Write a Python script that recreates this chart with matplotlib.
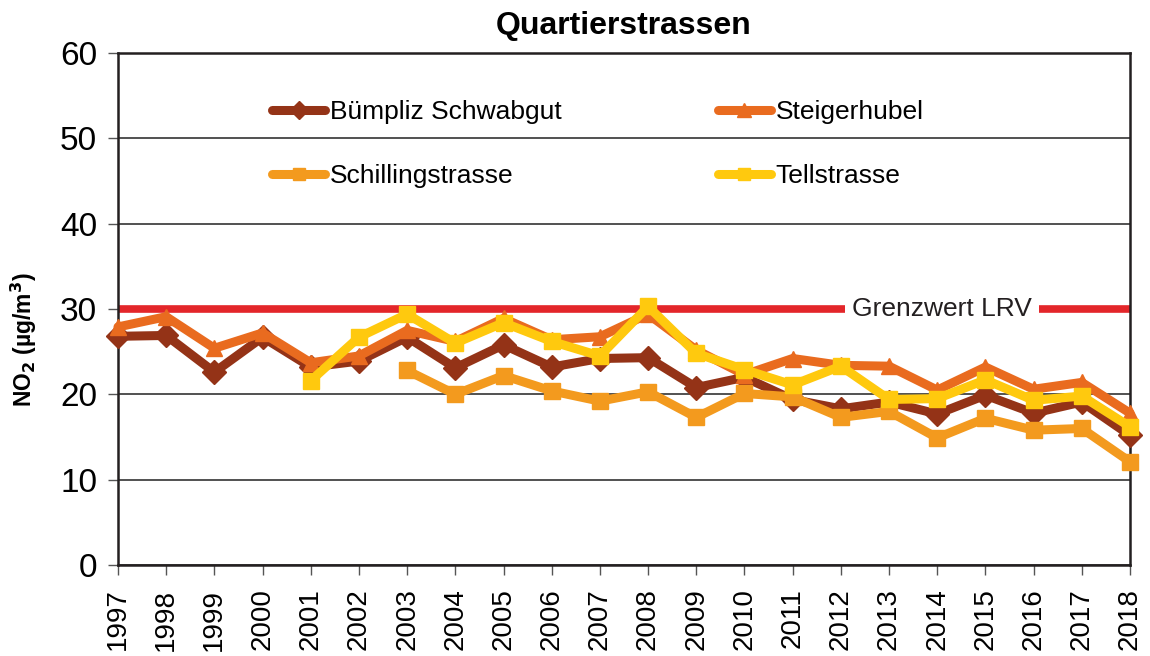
import matplotlib.pyplot as plt

years = list(range(1997, 2019))

# NO2 annual means (ug/m3)
buempliz = [26.8, 26.9, 22.6, 26.7, 23.2, 23.9, 26.7, 23.1, 25.8, 23.2, 24.2, 24.3,
            20.8, 22.0, 19.4, 18.3, 19.1, 17.7, 19.9, 17.8, 19.1, 15.2]
steigerhubel = [27.9, 29.1, 25.4, 27.2, 23.7, 24.5, 27.5, 26.2, 28.9, 26.4, 26.75, 29.4,
                25.2, 22.3, 24.2, 23.4, 23.3, 20.5, 23.2, 20.6, 21.4, 17.8]
schilling_years = list(range(2003, 2019))
schilling = [22.8, 20.0, 22.2, 20.4, 19.2, 20.3, 17.3, 20.1, 19.7, 17.3, 18.0, 14.9,
             17.2, 15.8, 16.0, 12.1]
tell_years = list(range(2001, 2019))
tell = [21.6, 26.7, 29.4, 26.0, 28.4, 26.2, 24.5, 30.3, 24.8, 22.9, 21.1, 23.3,
        19.4, 19.5, 21.7, 19.3, 19.8, 16.2]

grenzwert = 30

plt.rcParams['font.family'] = ['Liberation Sans', 'DejaVu Sans']

fig = plt.figure(figsize=(11.5, 6.56), dpi=100)
ax = fig.add_axes([0.1026, 0.1387, 0.8800, 0.7805])

ax.axhline(grenzwert, color='#E3262A', lw=5.5, zorder=2)
ax.text(2014.1, grenzwert, 'Grenzwert LRV', fontsize=19, color='#231F20',
        ha='center', va='center', zorder=3,
        bbox=dict(facecolor='white', edgecolor='none', pad=5))

series = [
    (years, buempliz, 'Bümpliz Schwabgut', '#943317', 'D', 12),
    (years, steigerhubel, 'Steigerhubel', '#E96B1F', '^', 12),
    (schilling_years, schilling, 'Schillingstrasse', '#F39A1E', 's', 11),
    (tell_years, tell, 'Tellstrasse', '#FFC90E', 's', 11),
]
handles = []
for xs, ys, lab, col, mk, ms in series:
    h, = ax.plot(xs, ys, color=col, lw=6.5, marker=mk, ms=ms, mec=col, label=lab,
                 solid_capstyle='round', solid_joinstyle='round', clip_on=False, zorder=4)
    handles.append(h)

ax.set_xlim(1997, 2018)
ax.set_ylim(0, 60)
ax.set_xticks(years)
ax.set_xticklabels([str(y) for y in years], rotation=90, fontsize=20)
ax.set_yticks(range(0, 61, 10))
ax.tick_params(axis='y', labelsize=24, length=7, width=1, color='#555555', pad=8)
ax.tick_params(axis='x', length=7, width=1, color='#555555', pad=10)
ax.grid(axis='y', color='#333333', lw=1.2)
ax.set_axisbelow(True)
for s in ax.spines.values():
    s.set_color('#231F20')
    s.set_linewidth(1.8)

ax.set_ylabel('NO$_\\mathbf{2}$ (µg/m$^\\mathbf{3}$)', fontsize=16.5, fontweight='bold')
ax.yaxis.set_label_coords(-0.078, 0.44)
ax.set_title('Quartierstrassen', fontsize=23, fontweight='bold', pad=14)

# ncol=2 fills column-wise, so order: col1 = Bümpliz, Schilling; col2 = Steigerhubel, Tell
order = [0, 2, 1, 3]
leg = ax.legend([handles[i] for i in order], [series[i][2] for i in order],
                loc='upper left', bbox_to_anchor=(0.129, 0.954), ncol=2, frameon=False,
                fontsize=19, markerscale=0.8, handlelength=2.0, handletextpad=0.2,
                columnspacing=5.9, labelspacing=1.52)

fig.savefig('out.png', dpi=100)
